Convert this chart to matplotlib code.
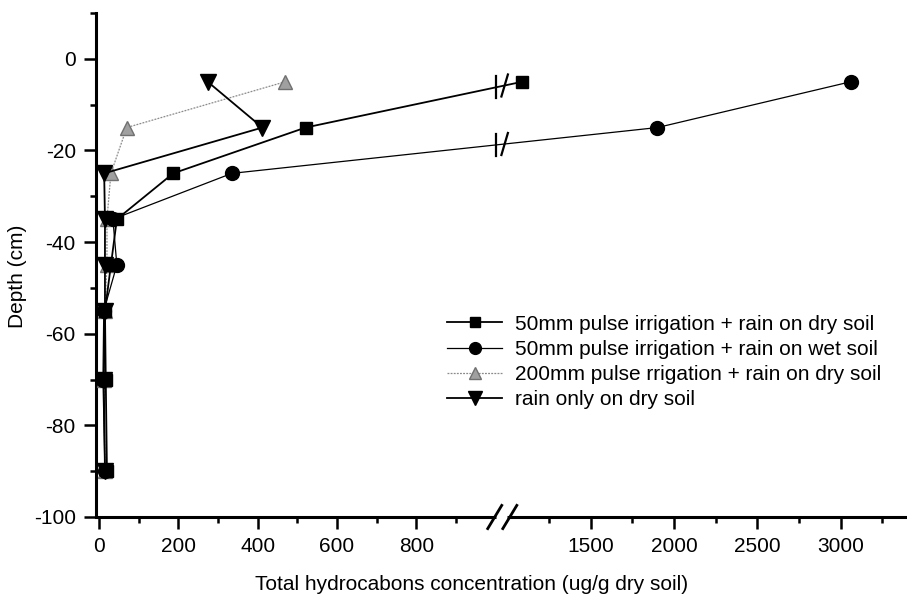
import numpy as np
import matplotlib
matplotlib.use("Agg")
import matplotlib.pyplot as plt
from matplotlib.ticker import FixedLocator, FixedFormatter
import matplotlib.transforms as mtransforms

plt.rcParams['font.family'] = ['Liberation Sans', 'DejaVu Sans']
plt.rcParams['axes.unicode_minus'] = False

# data (depth in cm, concentration in ug/g)
depth = [-5, -15, -25, -35, -45, -55, -70, -90]
sq_50_dry = [1090, 521, 187, 45, 30, 15, 17, 20]
ci_50_wet = [3060, 1900, 335, 35, 45, 12, 10, 15]
tu_200_dry = [470, 70, 30, 20, 20, 15, 12, 15]
td_rain = [274, 412, 13, 15, 15, 15, 12, 15]

labels = ["50mm pulse irrigation + rain on dry soil",
          "50mm pulse irrigation + rain on wet soil",
          "200mm pulse rrigation + rain on dry soil",
          "rain only on dry soil"]

x_major = [0, 200, 400, 600, 800, 1500, 2000, 2500, 3000]
x_minor = [100, 300, 500, 700, 900, 1250, 1750, 2250, 2750, 3250]
y_major = [0, -20, -40, -60, -80, -100]
y_minor = [10, -10, -30, -50, -70, -90]

# broken x axis: 0-1000 linear, then gap, then compressed 1000-3400
BRK = 1000.0
GAP = 30.0
K = 0.4204

def fwd(v):
    v = np.asarray(v, dtype=float)
    return np.where(v <= BRK, v, BRK + GAP + (v - BRK) * K)

def inv(p):
    p = np.asarray(p, dtype=float)
    return np.where(p <= BRK, p,
                    np.where(p < BRK + GAP, BRK, BRK + (p - BRK - GAP) / K))

xmin, xmax = -7.6, 3397
ymin, ymax = -100, 10
FS = 15

fig = plt.figure(figsize=(9.07, 6.06), dpi=100)
ax = fig.add_axes([96/907, 89/606, 811/907, 504/606])
ax.set_xscale('function', functions=(fwd, inv))
ax.set_xlim(xmin, xmax)
ax.set_ylim(ymin, ymax)

P0, P1 = float(fwd(xmin)), float(fwd(xmax))
def xfrac(p):
    return (p - P0) / (P1 - P0)

l1, = ax.plot(sq_50_dry, depth, color='black', lw=1.3, marker='s', ms=9,
              mfc='black', mec='black', zorder=5)
l2, = ax.plot(ci_50_wet, depth, color='black', lw=0.9, marker='o', ms=10,
              mfc='black', mec='black', zorder=4)
l3, = ax.plot(tu_200_dry, depth, color='#8a8a8a', lw=0.9, ls=(0, (1.5, 1)),
              marker='^', ms=10, mfc='#a0a0a0', mec='#707070', zorder=3)
l4, = ax.plot(td_rain, depth, color='black', lw=1.3, marker='v', ms=11.5,
              mfc='black', mec='black', zorder=6)

# break marks on lines that cross the gap
blend = mtransforms.blended_transform_factory(ax.transAxes, ax.transData)
for xs in (sq_50_dry, ci_50_wet):
    ps = fwd(xs)
    for i in range(len(ps) - 1):
        a, b = ps[i], ps[i + 1]
        if min(a, b) < BRK < max(a, b):
            for pm, tilt in ((1000, 0.0), (1023, 0.004)):
                yy = depth[i] + (pm - a) / (b - a) * (depth[i + 1] - depth[i])
                fx = xfrac(pm)
                ax.plot([fx - tilt, fx + tilt], [yy - 2.4, yy + 2.4],
                        color='black', lw=1.6, transform=blend, clip_on=False)

# axes spines, bottom one broken
for s in ['top', 'right', 'bottom']:
    ax.spines[s].set_visible(False)
ax.spines['left'].set_linewidth(2.2)
bt = mtransforms.blended_transform_factory(ax.transData, ax.transAxes)
ax.plot([xmin, BRK], [0, 0], color='black', lw=2.2, transform=bt,
        clip_on=False, solid_capstyle='butt')
ax.plot([BRK + 0.01, xmax], [0, 0], color='black', lw=2.2, transform=bt,
        clip_on=False, solid_capstyle='butt')
dx, dy = 7/811, 11.6/504
for p in (BRK - 2, BRK + GAP + 6):
    fx = xfrac(p)
    ax.plot([fx - dx, fx + dx], [-dy, dy], color='black', lw=2.0,
            transform=ax.transAxes, clip_on=False)

ax.xaxis.set_major_locator(FixedLocator(x_major))
ax.xaxis.set_major_formatter(FixedFormatter([str(v) for v in x_major]))
ax.xaxis.set_minor_locator(FixedLocator(x_minor))
ax.xaxis.set_minor_formatter(FixedFormatter([''] * len(x_minor)))
ax.yaxis.set_major_locator(FixedLocator(y_major))
ax.yaxis.set_minor_locator(FixedLocator(y_minor))

ax.tick_params(which='major', length=8.5, width=1.8, labelsize=FS, pad=6)
ax.tick_params(which='minor', length=4.5, width=1.8)
ax.tick_params(axis='x', which='major', pad=6)

fig.text(472/907, 1 - 585/606, "Total hydrocabons concentration (ug/g dry soil)",
         ha='center', va='center', fontsize=FS)
fig.text(18/907, 1 - 276/606, "Depth (cm)", rotation=90,
         ha='center', va='center', fontsize=FS)

ax.legend([l1, l2, l3, l4], labels, loc='center left',
          bbox_to_anchor=(447/907, 1 - 362/606), bbox_transform=fig.transFigure,
          frameon=False, fontsize=FS, handlelength=2.65, handletextpad=0.6,
          labelspacing=0.3, borderpad=0, borderaxespad=0, markerscale=0.85)

fig.savefig("out.png", dpi=100)
